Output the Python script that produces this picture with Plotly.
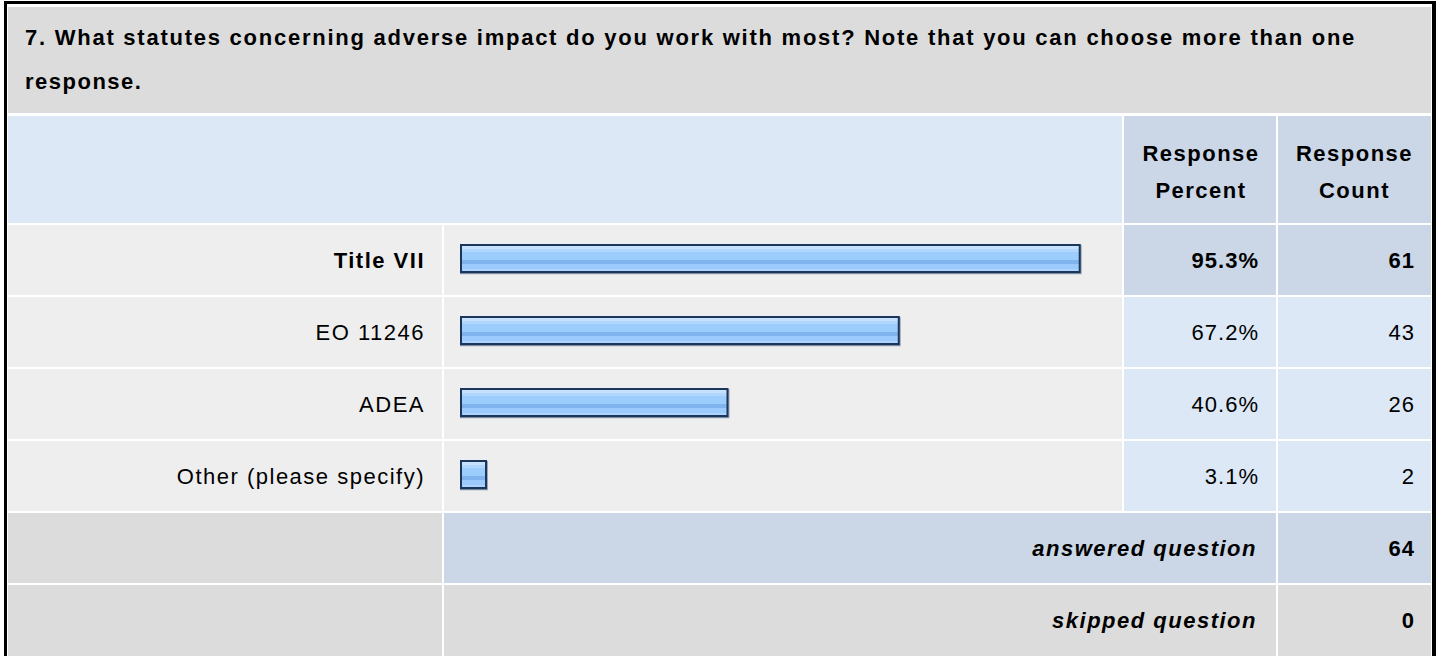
import plotly.graph_objects as go

W, H = 1437, 656

# ---------------- data ----------------
question_line1 = "7. What statutes concerning adverse impact do you work with most? Note that you can choose more than one"
question_line2 = "response."
header_percent = ["Response", "Percent"]
header_count = ["Response", "Count"]
categories = ["Title VII", "EO 11246", "ADEA", "Other (please specify)"]
percents = [95.3, 67.2, 40.6, 3.1]
percent_labels = ["95.3%", "67.2%", "40.6%", "3.1%"]
counts = [61, 43, 26, 2]
answered_label = "answered question"
answered_count = 64
skipped_label = "skipped question"
skipped_count = 0

# ---------------- style ----------------
FONT = "Liberation Sans, Arial, Helvetica, sans-serif"
FS = 22
C_GRAY = "#dcdcdc"
C_ROW = "#eeeeee"
C_BLUE_L = "#dce8f5"
C_BLUE_D = "#cbd7e6"
C_TEXT = "#000000"

COL0 = (8, 442)
COL1 = (444, 1122)
COL2 = (1124, 1276)
COL3 = (1278, 1431)
ROW_TOP = 225
ROW_PITCH = 72
ROW_H = 70


def px(x):
    return x / W


def py(y):
    return 1 - y / H


shapes = []


def rect(x0, y0, x1, y1, color):
    shapes.append(dict(type="rect", xref="paper", yref="paper",
                       x0=px(x0), x1=px(x1), y0=py(y1), y1=py(y0),
                       fillcolor=color, line=dict(width=0), layer="below"))


rect(4, 1, 1436, H + 5, "#000000")
rect(7, 4, 1432, H + 5, "#ffffff")
rect(COL0[0], 7, COL3[1], 113, C_GRAY)
rect(COL0[0], 116, COL1[1], 223, C_BLUE_L)
rect(COL2[0], 116, COL2[1], 223, C_BLUE_D)
rect(COL3[0], 116, COL3[1], 223, C_BLUE_D)
n = len(categories)
for i in range(n):
    y0 = ROW_TOP + i * ROW_PITCH
    y1 = y0 + ROW_H
    rect(COL0[0], y0, COL0[1], y1, C_ROW)
    rect(COL1[0], y0, COL1[1], y1, C_ROW)
    cc = C_BLUE_D if i == 0 else C_BLUE_L
    rect(COL2[0], y0, COL2[1], y1, cc)
    rect(COL3[0], y0, COL3[1], y1, cc)
ya = ROW_TOP + n * ROW_PITCH
rect(COL0[0], ya, COL0[1], ya + ROW_H, C_GRAY)
rect(COL1[0], ya, COL2[1], ya + ROW_H, C_BLUE_D)
rect(COL3[0], ya, COL3[1], ya + ROW_H, C_BLUE_D)
ys = ya + ROW_PITCH
rect(COL0[0], ys, COL0[1], ys + ROW_H + 10, C_GRAY)
rect(COL1[0], ys, COL2[1], ys + ROW_H + 10, C_GRAY)
rect(COL3[0], ys, COL3[1], ys + ROW_H + 10, C_GRAY)

# ---------------- bars ----------------
X_DOM = (460, 1111)
X_START = -1.09
X_END = 100.0
S = (X_DOM[1] - X_DOM[0]) / (X_END - X_START)
Y_DOM = (ROW_TOP - 1, ROW_TOP - 1 + n * ROW_PITCH)

fig = go.Figure()

layers = [
    (-15.0, 14.3, "#9aa8ba", 0, 1),
    (-16.0, 13.3, "#1c365b", 0, 0),
    (-14.0, -11.0, "#c6e1fe", 2, 0),
    (-11.0, -8.0, "#b2d7fd", 2, 0),
    (-8.0, 0.0, "#9dcdfc", 2, 0),
    (0.0, 4.0, "#80b4ef", 2, 0),
    (4.0, 9.0, "#9acbfc", 2, 0),
    (9.0, 11.0, "#abd3fd", 2, 0),
]
for top, bot, col, inset, extra in layers:
    fig.add_trace(go.Bar(
        orientation="h",
        y=categories,
        x=[v - X_START - 2 * inset / S + extra / S for v in percents],
        base=X_START + inset / S,
        offset=top / ROW_PITCH,
        width=(bot - top) / ROW_PITCH,
        marker=dict(color=col, line=dict(width=0)),
        hoverinfo="skip",
        showlegend=False,
        xaxis="x", yaxis="y",
    ))

# ---------------- text (scatter text on a pixel axis) ----------------
texts = []  # (x, y, text, position, bold, italic)


def text(x, y, s, pos, bold=False, italic=False):
    texts.append((x, y, s, pos, bold, italic))


text(25, 39, question_line1, "middle right", bold=True)
text(25, 83, question_line2, "middle right", bold=True)
cx2 = (COL2[0] + COL2[1]) / 2
cx3 = (COL3[0] + COL3[1]) / 2
text(cx2 + 1, 155, header_percent[0], "middle center", bold=True)
text(cx2 + 1, 192, header_percent[1], "middle center", bold=True)
text(cx3, 155, header_count[0], "middle center", bold=True)
text(cx3, 192, header_count[1], "middle center", bold=True)
for i, cat in enumerate(categories):
    yc = ROW_TOP + i * ROW_PITCH + ROW_H / 2 + 2
    b = i == 0
    text(425, yc, cat, "middle left", bold=b)
    text(1259, yc, percent_labels[i], "middle left", bold=b)
    text(1415, yc, str(counts[i]), "middle left", bold=b)
yc = ya + ROW_H / 2 + 2
text(1257, yc, answered_label, "middle left", bold=True, italic=True)
text(1415, yc, str(answered_count), "middle left", bold=True)
yc = ys + ROW_H / 2 + 2
text(1257, yc, skipped_label, "middle left", bold=True, italic=True)
text(1415, yc, str(skipped_count), "middle left", bold=True)

groups = {}
for t in texts:
    key = (t[3], t[4], t[5])
    groups.setdefault(key, []).append(t)
for (pos, bold, italic), items in groups.items():
    fig.add_trace(go.Scatter(
        x=[t[0] for t in items], y=[t[1] for t in items],
        text=[t[2] for t in items], mode="text", textposition=pos,
        textfont=dict(family=FONT, size=FS, color=C_TEXT,
                      weight="bold" if bold else "normal",
                      style="italic" if italic else "normal"),
        hoverinfo="skip", showlegend=False, cliponaxis=False,
        xaxis="x2", yaxis="y2",
    ))

fig.update_layout(
    width=W, height=H,
    margin=dict(l=0, r=0, t=0, b=0),
    paper_bgcolor="#ffffff",
    plot_bgcolor="rgba(0,0,0,0)",
    barmode="overlay",
    shapes=shapes,
    showlegend=False,
    xaxis=dict(domain=[px(X_DOM[0]), px(X_DOM[1])], range=[X_START, X_END],
               visible=False, fixedrange=True),
    yaxis=dict(domain=[py(Y_DOM[1]), py(Y_DOM[0])], type="category",
               categoryorder="array", categoryarray=categories,
               range=[n - 0.5, -0.5], visible=False, fixedrange=True),
    xaxis2=dict(domain=[0, 1], range=[0, W], visible=False, fixedrange=True,
                anchor="y2"),
    yaxis2=dict(domain=[0, 1], range=[H, 0], visible=False, fixedrange=True,
                anchor="x2"),
)

post = """
var gd = document.getElementById('{plot_id}');
gd.querySelectorAll('.textpoint text').forEach(function (t) {
  var s = t.textContent;
  var ls = '1.5px';
  if (/^[0-9.%]+$/.test(s)) { ls = '1px'; }
  else if (s.length > 60) { ls = '1.75px'; }
  t.style.letterSpacing = ls;
});
"""
fig.write_html("out.html", config={"displayModeBar": False, "staticPlot": True},
               post_script=post)
